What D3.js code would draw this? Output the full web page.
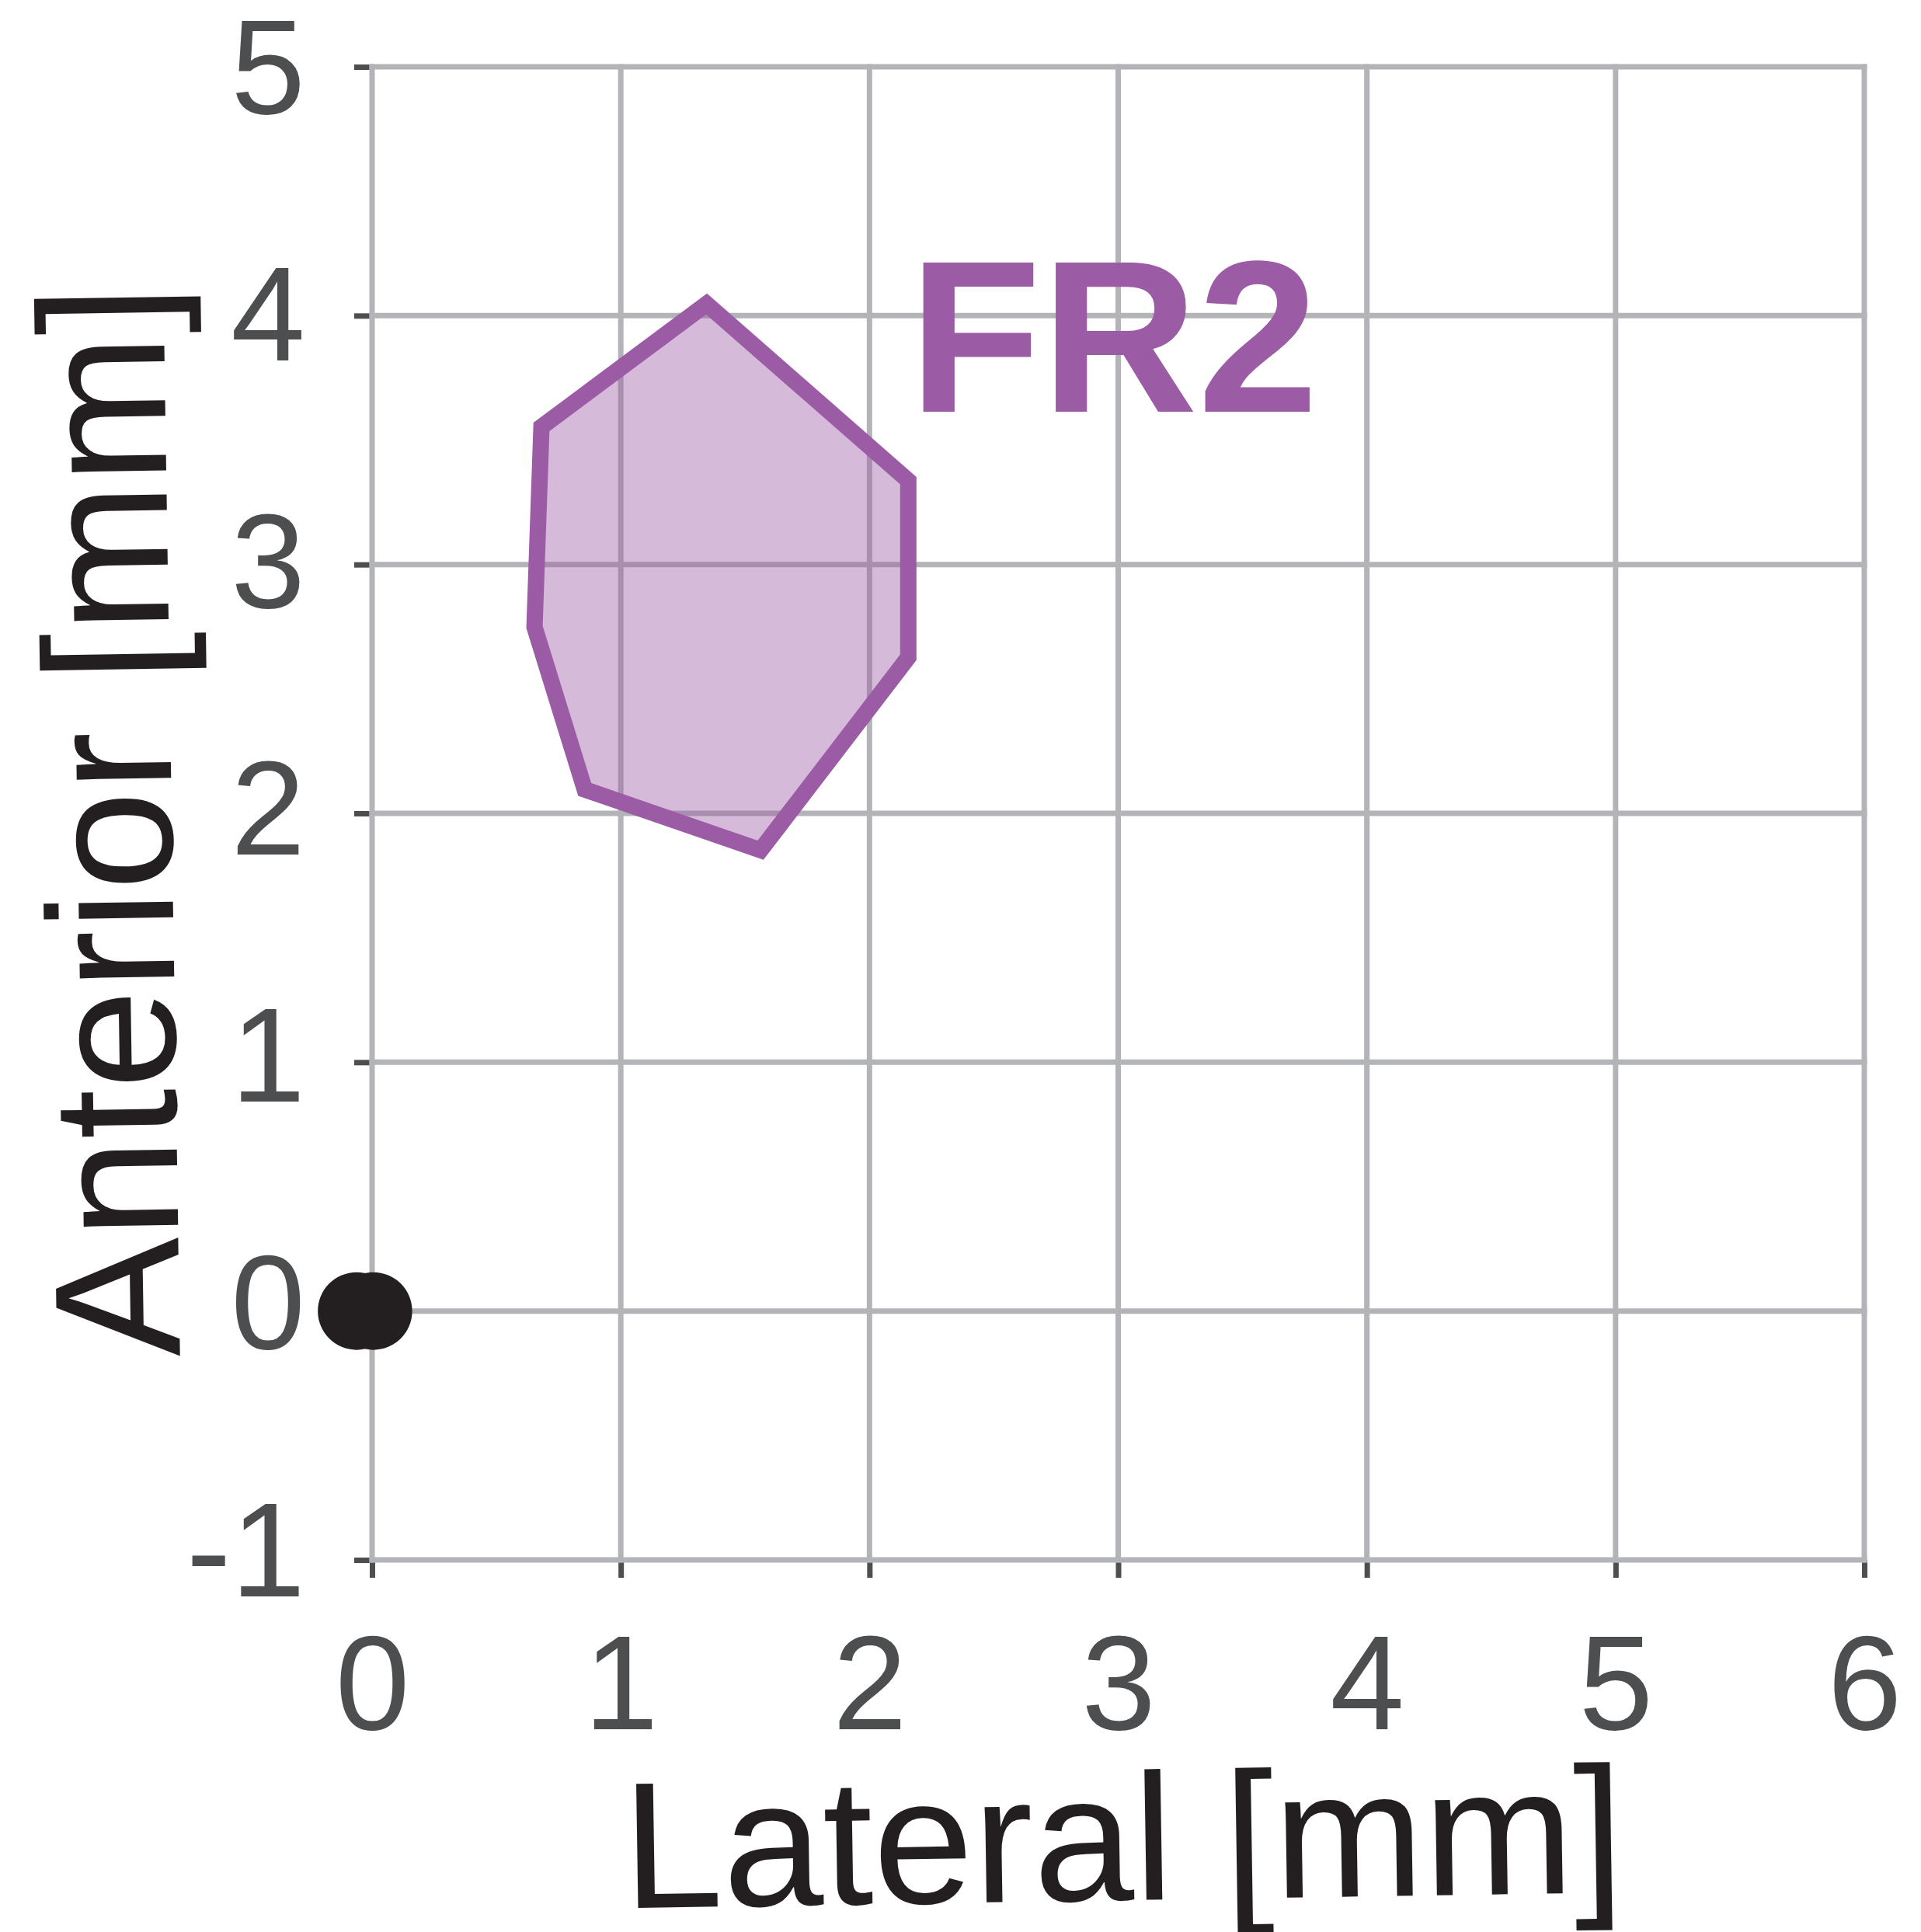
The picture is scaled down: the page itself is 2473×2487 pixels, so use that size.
<!DOCTYPE html>
<html>
<head>
<meta charset="utf-8">
<script src="https://cdn.jsdelivr.net/npm/d3@7"></script>
<style>
  body { margin: 0; background: #ffffff; }
  svg { display: block; }
</style>
</head>
<body>
<svg id="chart"></svg>
<script>
// Axis ticks
const xTicks = [0, 1, 2, 3, 4, 5, 6];
const yTicks = [-1, 0, 1, 2, 3, 4, 5];

// FR2 region outline (Lateral, Anterior) in mm
const fr2Lateral = [1.345, 0.681, 0.653, 0.855, 1.562, 2.156, 2.156];
const fr2Anterior = [4.047, 3.553, 2.749, 2.096, 1.852, 2.627, 3.337];

// Reference points at the origin
const refLateral = [-0.062, 0.005];
const refAnterior = [0, 0];

const regionLabel = "FR2";

// Dimensions
const width = 2473, height = 2487;
const font = "'Liberation Sans', Arial, Helvetica, sans-serif";
const purple = "#9b5ba5";
const gridColor = "#b3b4b7";
const tickColor = "#4d4e50";

const svg = d3.select("#chart")
  .attr("width", width)
  .attr("height", height)
  .style("background", "#ffffff");

const xScale = d3.scaleLinear().domain([0, 6]).range([479, 2400]);
const yScale = d3.scaleLinear().domain([-1, 5]).range([2008, 86]);

// Ticks first so the grid sits on top of their inner ends
const xAxis = svg.append("g")
  .attr("transform", `translate(0,${yScale(-1)})`)
  .call(d3.axisBottom(xScale).tickValues(xTicks).tickSize(23).tickFormat(d3.format("d")));

const yAxis = svg.append("g")
  .attr("transform", `translate(${xScale(0)},0)`)
  .call(d3.axisLeft(yScale).tickValues(yTicks).tickSize(23).tickFormat(d => d < 0 ? "-" + Math.abs(d) : d));

[xAxis, yAxis].forEach(ax => {
  ax.select(".domain").remove();
  ax.selectAll(".tick line")
    .attr("stroke", tickColor)
    .attr("stroke-width", 7);
  ax.selectAll(".tick text")
    .attr("fill", tickColor)
    .style("font-family", font)
    .style("font-size", "172px");
});

xAxis.selectAll(".tick text")
  .attr("y", 218)
  .attr("dy", 0);

// labels drift a little relative to the ticks in the original
yAxis.selectAll(".tick text")
  .attr("x", -86)
  .attr("dy", 0)
  .attr("y", d => 46 + 2.3 * (d + 1));

// Grid
svg.append("g")
  .selectAll("line")
  .data(xTicks)
  .enter()
  .append("line")
  .attr("x1", d => xScale(d))
  .attr("x2", d => xScale(d))
  .attr("y1", yScale(-1))
  .attr("y2", yScale(5))
  .attr("stroke", gridColor)
  .attr("stroke-width", 7)
  .attr("stroke-linecap", "square");

svg.append("g")
  .selectAll("line")
  .data(yTicks)
  .enter()
  .append("line")
  .attr("x1", xScale(0))
  .attr("x2", xScale(6))
  .attr("y1", d => yScale(d))
  .attr("y2", d => yScale(d))
  .attr("stroke", gridColor)
  .attr("stroke-width", 7)
  .attr("stroke-linecap", "square");

// Region polygon
const fr2 = fr2Lateral.map((x, i) => [xScale(x), yScale(fr2Anterior[i])]);
const polyLine = d3.line().curve(d3.curveLinearClosed);

svg.append("path")
  .attr("d", polyLine(fr2))
  .attr("transform", "translate(3,5)")
  .attr("fill", purple)
  .attr("fill-opacity", 0.42)
  .attr("stroke", "none");

svg.append("path")
  .attr("d", polyLine(fr2))
  .attr("fill", "none")
  .attr("stroke", purple)
  .attr("stroke-width", 21)
  .attr("stroke-linejoin", "miter");

// Origin points
svg.append("g")
  .selectAll("circle")
  .data(refLateral.map((x, i) => [x, refAnterior[i]]))
  .enter()
  .append("circle")
  .attr("cx", d => xScale(d[0]))
  .attr("cy", d => yScale(d[1]))
  .attr("r", 50)
  .attr("fill", "#231f20");

// Region label
svg.append("text")
  .text(regionLabel)
  .attr("x", 1170)
  .attr("y", 530)
  .attr("fill", purple)
  .style("font-family", font)
  .style("font-weight", "bold")
  .style("font-size", "279px");

// Axis titles
svg.append("text")
  .text("Lateral [mm]")
  .attr("transform", "translate(1447,2446) rotate(-0.9)")
  .attr("text-anchor", "middle")
  .attr("fill", "#231f20")
  .style("font-family", font)
  .style("font-size", "232px");

svg.append("text")
  .text("Anterior [mm]")
  .attr("transform", "translate(221,1056) rotate(-90.9)")
  .attr("text-anchor", "middle")
  .attr("fill", "#231f20")
  .style("font-family", font)
  .style("font-size", "230px");
</script>
</body>
</html>
